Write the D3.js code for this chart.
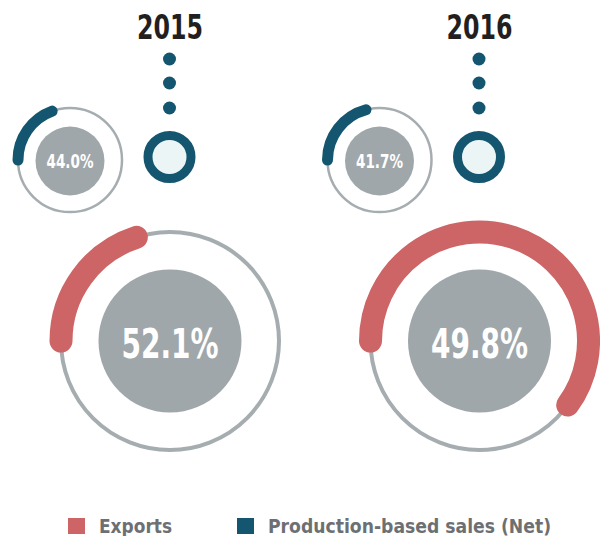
<!doctype html>
<html lang="en">
<head>
<meta charset="utf-8">
<title>exports vs production-based sales</title>
<script src="https://d3js.org/d3.v7.min.js"></script>
<style>
  body { margin: 0; background: #fff; }
  text { font-family: "DejaVu Sans", sans-serif; font-stretch: condensed; font-weight: bold; }
</style>
</head>
<body>
<div id="chart"></div>
<script>
// values
var years = ["2015", "2016"];
var exportsPct = [52.1, 49.8];
var productionPct = [44.0, 41.7];
// arc extents drawn on the rings, degrees clockwise from 12 o'clock
var exportArc = [[-90, -18], [-90, 126]];
var productionArc = [[-90, -20], [-90, -15]];
var legendLabels = ["Exports", "Production-based sales (Net)"];

var red = "#cd6465", blue = "#14566f", grey = "#a0a7aa", ringGrey = "#a6adb0";

var svg = d3.select("#chart").append("svg")
  .attr("width", 600).attr("height", 536);

var x = d3.scalePoint().domain(years).range([170, 479.5]);
var deg = d3.scaleLinear().domain([0, 360]).range([0, 2 * Math.PI]);

function arcPath(cx, cy, r, a) {
  var p = d3.path();
  p.arc(cx, cy, r, deg(a[0] - 90), deg(a[1] - 90), false);
  return p.toString();
}

// squeeze a text to a width, the original uses a narrow DIN-like face
function fit(t, w) {
  t.attr("textLength", w).attr("lengthAdjust", "spacingAndGlyphs");
  return t;
}

years.forEach(function (yr, i) {
  var cx = x(yr);
  var g = svg.append("g");

  // year label
  fit(g.append("text").attr("x", cx).attr("y", 39)
    .attr("text-anchor", "middle").style("font-size", "33px").style("fill", "#231f20")
    .text(yr), 66);

  // dots
  [59, 83, 108].forEach(function (dy) {
    g.append("circle").attr("cx", cx - 0.5).attr("cy", dy).attr("r", 6.5).attr("fill", blue);
  });

  // hollow blue ring
  g.append("circle").attr("cx", cx - 0.5).attr("cy", 157).attr("r", 21.5)
    .attr("fill", "#ecf5f6").attr("stroke", blue).attr("stroke-width", 9);

  // small production ring
  var sx = cx - 100;
  g.append("circle").attr("cx", sx).attr("cy", 160).attr("r", 52)
    .attr("fill", "none").attr("stroke", ringGrey).attr("stroke-width", 2.5);
  g.append("path").attr("d", arcPath(sx, 160, 52, productionArc[i]))
    .attr("fill", "none").attr("stroke", blue).attr("stroke-width", 11).attr("stroke-linecap", "round");
  g.append("circle").attr("cx", sx).attr("cy", 161).attr("r", 34.5).attr("fill", grey);
  fit(g.append("text").attr("x", sx).attr("y", 168).attr("text-anchor", "middle")
    .style("font-size", "19px").style("fill", "#fff")
    .text(productionPct[i].toFixed(1) + "%"), 47);

  // big exports ring
  g.append("circle").attr("cx", cx).attr("cy", 341).attr("r", 109)
    .attr("fill", "none").attr("stroke", ringGrey).attr("stroke-width", 4);
  g.append("path").attr("d", arcPath(cx, 341, 109, exportArc[i]))
    .attr("fill", "none").attr("stroke", red).attr("stroke-width", 23).attr("stroke-linecap", "round");
  g.append("circle").attr("cx", cx).attr("cy", 341).attr("r", 71.5).attr("fill", grey);
  fit(g.append("text").attr("x", cx).attr("y", 358).attr("text-anchor", "middle")
    .style("font-size", "41px").style("fill", "#fff")
    .text(exportsPct[i].toFixed(1) + "%"), 97);
});

// legend
var legendX = [68, 237];
var legendW = [73, 283];
var legendColor = [red, blue];
legendLabels.forEach(function (lab, i) {
  svg.append("rect").attr("x", legendX[i]).attr("y", 518).attr("width", 17).attr("height", 16)
    .attr("fill", legendColor[i]);
  fit(svg.append("text").attr("x", legendX[i] + 31).attr("y", 533)
    .style("font-size", "20px").style("fill", "#6d7073").text(lab), legendW[i]);
});
</script>
</body>
</html>
